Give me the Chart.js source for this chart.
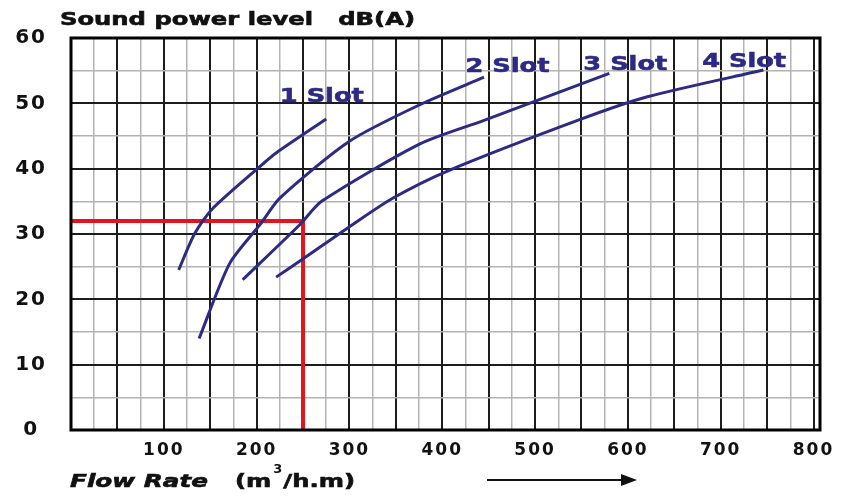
<!DOCTYPE html>
<html>
<head>
<meta charset="utf-8">
<script src="https://cdn.jsdelivr.net/npm/chart.js@4.4.1/dist/chart.umd.min.js"></script>
<style>
  html, body { margin: 0; padding: 0; background: #fff; }
  #wrap { width: 842px; height: 497px; }
</style>
</head>
<body>
<div id="wrap"><canvas id="myChart"></canvas></div>
<script>
// flow rate (m3/h.m) -> sound power level dB(A)
const slot1 = [[116, 24.5], [133, 30], [152, 33.8], [205, 40.5], [222, 42.5], [275, 47.6]];
const slot2 = [[138, 14], [171, 25.5], [204, 31.5], [225, 35.5], [300, 44.2], [376, 49.8], [445, 54]];
const slot3 = [[185, 23], [247, 31.5], [270, 35], [376, 43.8], [445, 47.4], [580, 54.6]];
const slot4 = [[221, 23.4], [247, 25.9], [304, 31.5], [347, 35.5], [405, 39.6], [548, 47.5], [621, 51], [746, 55.1]];
const seriesNames = ["1 Slot", "2 Slot", "3 Slot", "4 Slot"];
// where each curve's name starts (flow, dB at baseline)
const nameAt = [[225, 50.2], [425, 54.8], [552, 55.1], [680, 55.6]];

// example reading: 250 m3/h.m gives about 32 dB(A)
const readFlow = 250;
const readLevel = 32;

const xTicks = [100, 200, 300, 400, 500, 600, 700, 800];
const yTicks = [0, 10, 20, 30, 40, 50, 60];
const xMax = 807;

const navy = "#2d2a86";
const toPts = arr => arr.map(p => ({ x: p[0], y: p[1] }));

// draw text squeezed/stretched to a given width (the original uses a wide heavy face)
function wideText(ctx, text, x, y, w) {
  const m = ctx.measureText(text).width;
  ctx.save();
  ctx.translate(x, y);
  ctx.scale(w / m, 1);
  ctx.lineWidth = 0.6;
  ctx.strokeStyle = ctx.fillStyle;
  ctx.fillText(text, 0, 0);
  ctx.strokeText(text, 0, 0);
  ctx.restore();
}

const extras = {
  id: "extras",
  beforeDraw(chart) {
    chart.ctx.letterSpacing = "2px";
  },
  afterDraw(chart) {
    const { ctx, chartArea: a, scales } = chart;
    ctx.save();
    ctx.letterSpacing = "0px";
    // frame
    ctx.strokeStyle = "#000";
    ctx.lineWidth = 3;
    ctx.strokeRect(a.left, a.top, a.right - a.left, a.bottom - a.top);

    // curve names
    ctx.fillStyle = navy;
    ctx.font = "bold 20px 'DejaVu Sans'";
    ctx.textBaseline = "alphabetic";
    ctx.textAlign = "left";
    seriesNames.forEach((n, i) => {
      wideText(ctx, n, scales.x.getPixelForValue(nameAt[i][0]), scales.y.getPixelForValue(nameAt[i][1]), 84);
    });

    // y title
    ctx.fillStyle = "#111";
    ctx.font = "bold 17px 'DejaVu Sans'";
    wideText(ctx, "Sound power level   dB(A)", a.left - 11, a.top - 13, 355);

    // x title
    const by = a.bottom + 57;
    ctx.font = "italic bold 18px 'DejaVu Sans'";
    wideText(ctx, "Flow Rate", a.left - 1, by, 138);
    ctx.font = "bold 18px 'DejaVu Sans'";
    const w1 = ctx.measureText("(m").width;
    const w2 = ctx.measureText("/h.m)").width;
    const k = 108 / (w1 + w2);
    wideText(ctx, "(m", a.left + 164, by, w1 * k);
    wideText(ctx, "/h.m)", a.left + 176 + w1 * k, by, w2 * k);
    ctx.font = "bold 13px 'DejaVu Sans'";
    ctx.fillText("3", a.left + 166 + w1 * k, by - 14);

    // arrow
    const ay = a.bottom + 50;
    ctx.strokeStyle = "#111";
    ctx.lineWidth = 2;
    ctx.beginPath();
    ctx.moveTo(a.left + 416, ay);
    ctx.lineTo(a.left + 555, ay);
    ctx.stroke();
    ctx.beginPath();
    ctx.moveTo(a.left + 566, ay);
    ctx.lineTo(a.left + 550, ay - 6);
    ctx.lineTo(a.left + 550, ay + 6);
    ctx.closePath();
    ctx.fill();
    ctx.restore();
  }
};

const curve = (name, arr) => ({
  label: name,
  data: toPts(arr),
  showLine: true,
  borderColor: navy,
  borderWidth: 3,
  pointRadius: 0,
  tension: 0.25,
  order: 0
});

new Chart(document.getElementById("myChart"), {
  type: "scatter",
  data: {
    datasets: [
      curve(seriesNames[0], slot1),
      curve(seriesNames[1], slot2),
      curve(seriesNames[2], slot3),
      curve(seriesNames[3], slot4),
      {
        label: "reading",
        data: [{ x: 0, y: readLevel }, { x: readFlow, y: readLevel }, { x: readFlow, y: 0 }],
        showLine: true,
        borderColor: "#e3151c",
        borderWidth: 4,
        pointRadius: 0,
        tension: 0,
        order: 1
      }
    ]
  },
  plugins: [extras],
  options: {
    responsive: true,
    maintainAspectRatio: false,
    animation: false,
    layout: { padding: { top: 36, right: 22, bottom: 0, left: 0 } },
    plugins: {
      legend: { display: false },
      tooltip: { enabled: false }
    },
    scales: {
      x: {
        type: "linear",
        min: 0,
        max: xMax,
        afterFit: s => { s.height = 67; },
        afterBuildTicks: s => {
          const t = [];
          for (let v = 0; v <= 800; v += 25) t.push({ value: v });
          t.push({ value: xMax });
          s.ticks = t;
        },
        border: { display: false },
        grid: {
          drawTicks: false,
          color: c => (c.tick.value % 50 === 0 ? "#1c1c1c" : "#b3b3b3"),
          lineWidth: c => (c.tick.value % 50 === 0 ? 2 : 1.5)
        },
        ticks: {
          autoSkip: false,
          maxRotation: 0,
          padding: 10,
          color: "#111",
          font: { family: "'DejaVu Sans'", size: 17, weight: "bold" },
          callback: v => (xTicks.includes(v) ? String(v) : "")
        }
      },
      y: {
        min: 0,
        max: 60,
        afterFit: s => { s.width = 71; },
        border: { display: false },
        grid: {
          drawTicks: false,
          color: c => (c.tick.value % 10 === 0 ? "#1c1c1c" : "#b3b3b3"),
          lineWidth: c => (c.tick.value % 10 === 0 ? 2 : 1.5)
        },
        ticks: {
          stepSize: 5,
          autoSkip: false,
          padding: 26,
          crossAlign: "center",
          color: "#111",
          font: { family: "'DejaVu Sans'", size: 20, weight: "bold" },
          callback: v => (yTicks.includes(v) ? String(v) : "")
        }
      }
    }
  }
});
</script>
</body>
</html>
